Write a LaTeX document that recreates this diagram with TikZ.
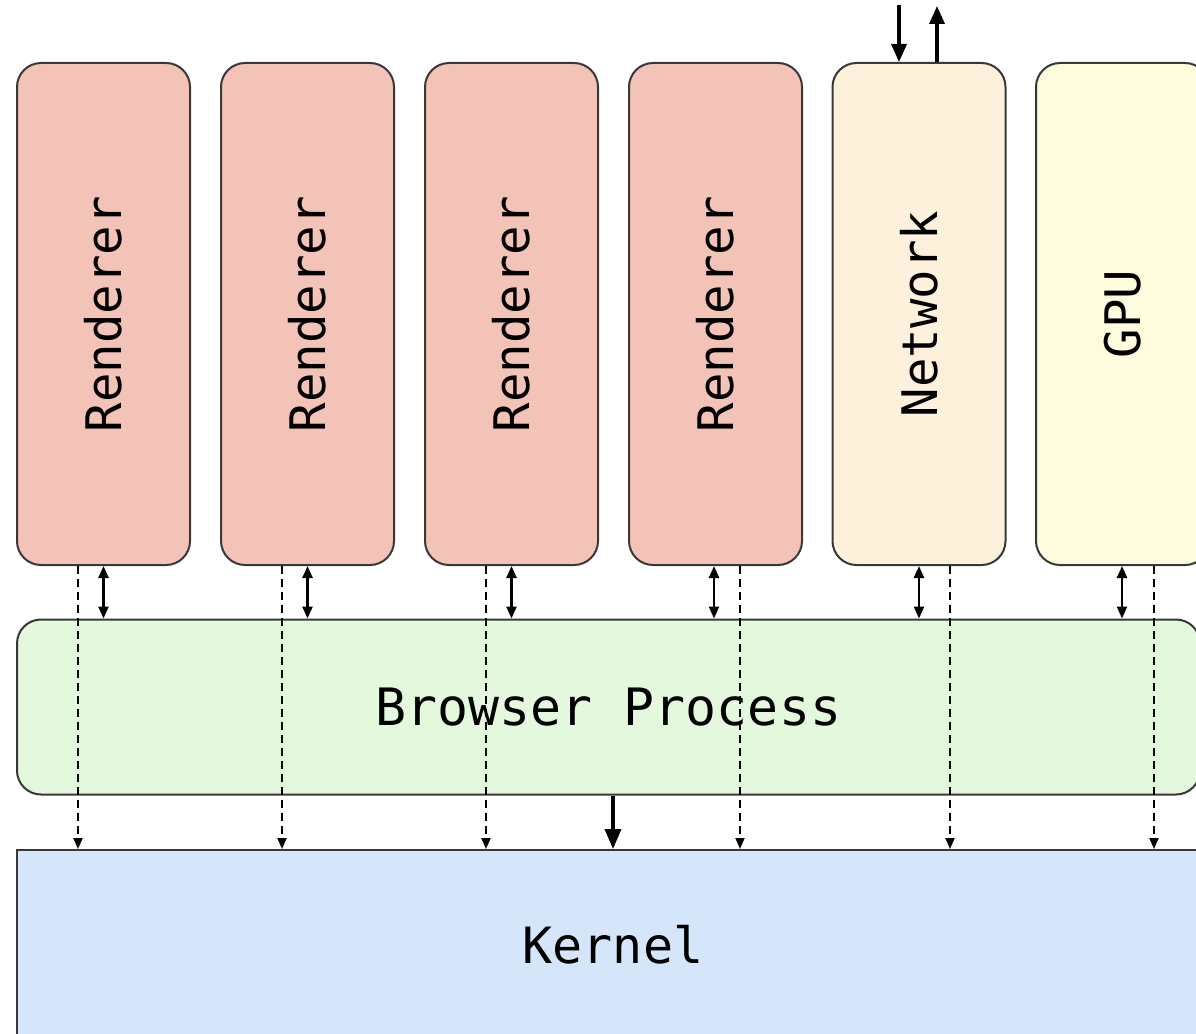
\documentclass[tikz,border=0pt]{standalone}
\usepackage{fontspec}
\setmonofont{DejaVu Sans Mono}
\usetikzlibrary{arrows.meta}
\definecolor{rendfill}{HTML}{F4C3B8}
\definecolor{netfill}{HTML}{FDF1DC}
\definecolor{gpufill}{HTML}{FEFCDC}
\definecolor{brfill}{HTML}{E4F8DD}
\definecolor{kerfill}{HTML}{D5E6FB}
\definecolor{edge}{HTML}{383838}
\begin{document}
\begin{tikzpicture}[x=1pt,y=-1pt,
  box/.style={draw=edge, line width=2pt, rounded corners=24pt, inner sep=0pt,
    font=\ttfamily\fontsize{49}{58}\selectfont},
  vbox/.style={box, minimum width=173pt, minimum height=502pt},
  dbl/.style={line width=2.4pt, {Triangle[length=12pt,width=10pt]}-{Triangle[length=12pt,width=10pt]}},
  dsh/.style={line width=1.9pt, dash pattern=on 8pt off 5pt, -{Triangle[length=11pt,width=9pt]}},
  bold/.style={line width=3.5pt, -{Triangle[length=20pt,width=16pt]}}
]
\useasboundingbox (0,0) rectangle (1196,1033);
\clip (0,0) rectangle (1196,1033);
\node[vbox, fill=rendfill] (r1) at (103.5,314) {\rotatebox{90}{Renderer}};
\node[vbox, fill=rendfill] (r2) at (307.5,314) {\rotatebox{90}{Renderer}};
\node[vbox, fill=rendfill] (r3) at (511.5,314) {\rotatebox{90}{Renderer}};
\node[vbox, fill=rendfill] (r4) at (715.5,314) {\rotatebox{90}{Renderer}};
\node[vbox, fill=netfill] (net) at (919,314) {\rotatebox{90}{Network}};
\node[vbox, fill=gpufill] (gpu) at (1122.5,314) {\rotatebox{90}{GPU}};
\node[box, fill=brfill, minimum width=1183pt, minimum height=175pt, font=\ttfamily\fontsize{51.5}{60}\selectfont] (br) at (608.5,707) {Browser Process};
\node[box, rounded corners=0pt, fill=kerfill, minimum width=1192pt, minimum height=190pt, font=\ttfamily\fontsize{50}{60}\selectfont] (ker) at (613,945) {Kernel};
% renderer <-> browser
\foreach \n/\d in {r1/0,r2/0,r3/0,r4/-1.5,net/0,gpu/-0.5}{
  \draw[dbl] ([xshift=\d pt]\n.south) -- ([xshift=\d pt]\n.south |- br.north);
}
% dashed to kernel
\foreach \n/\d in {r1/-25.5,r2/-25.5,r3/-25.5,r4/24.5,net/31,gpu/31.5}{
  \draw[dsh] ([xshift=\d pt]\n.south) -- ([xshift=\d pt]\n.south |- ker.north);
}
% browser -> kernel
\draw[bold] ([xshift=4.5pt]br.south) -- ([xshift=4.5pt]br.south |- ker.north);
% network external
\coordinate (netin) at (899,5);
\coordinate (netout) at (937,6);
\draw[bold, -{Triangle[length=18pt,width=15pt]}] (netin) -- (netin |- net.north);
\draw[bold, -{Triangle[length=18pt,width=15pt]}] (netout |- net.north) -- (netout);
\end{tikzpicture}
\end{document}
